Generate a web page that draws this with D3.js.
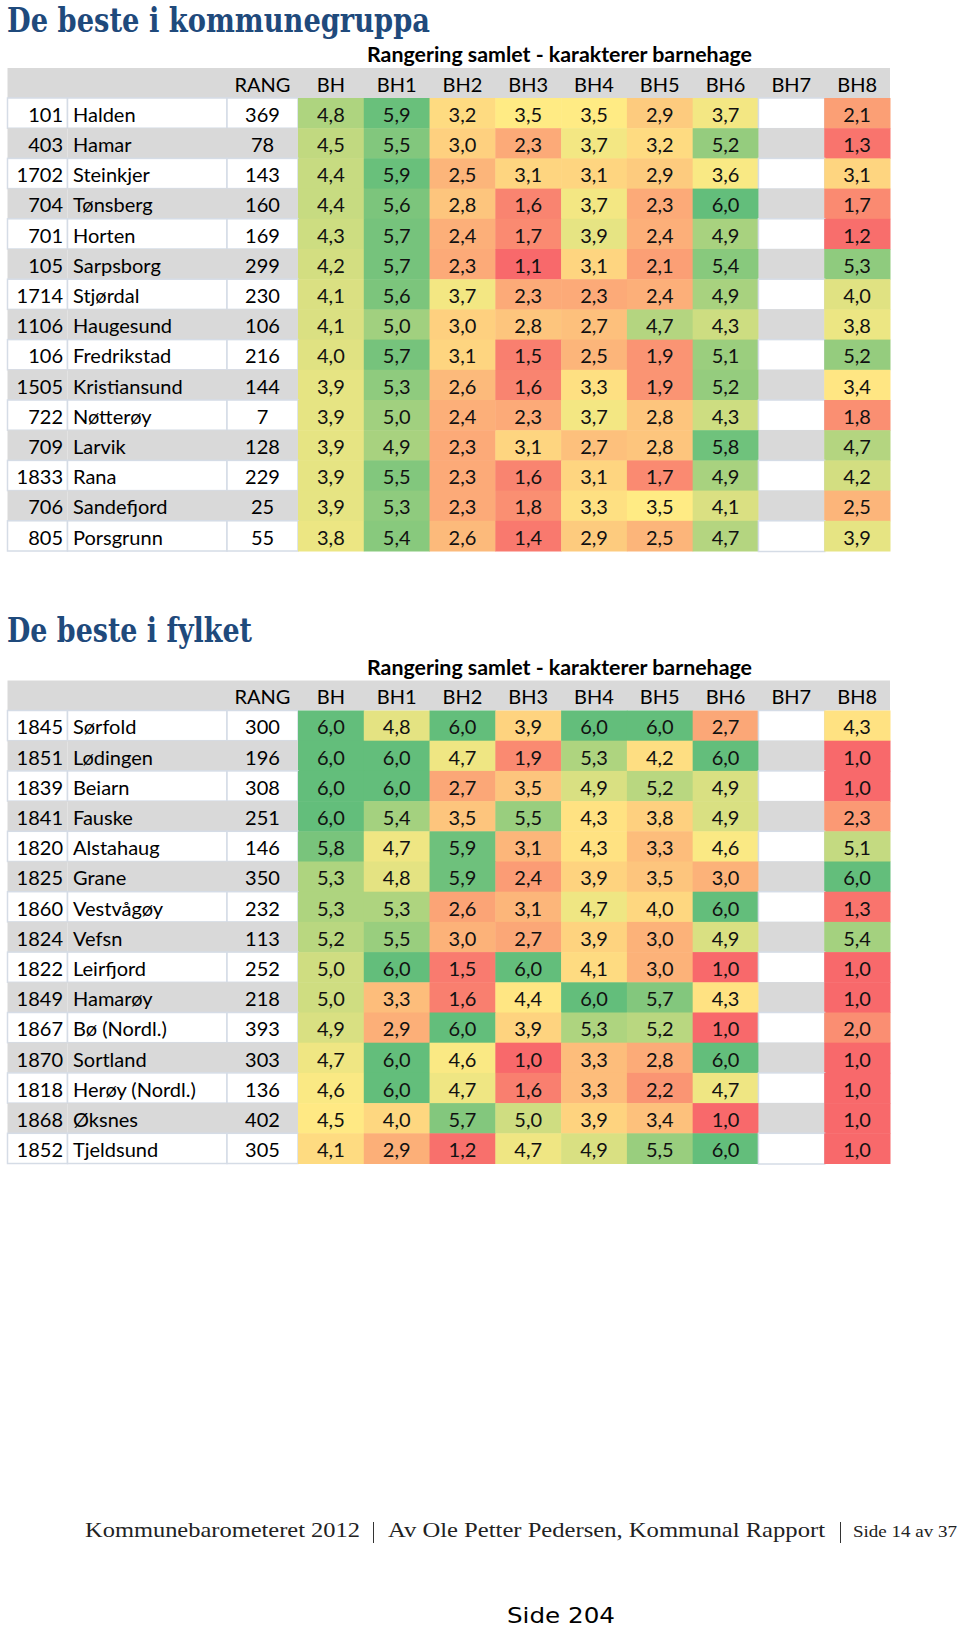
<!DOCTYPE html>
<html><head><meta charset="utf-8">
<script src="https://cdn.jsdelivr.net/npm/d3@7"></script>
<style>body{margin:0;background:#fff}svg{display:block}</style>
</head><body><svg id="c" width="960" height="1629"></svg>
<script>
// ---------- DATA ----------
const columns = ["BH","BH1","BH2","BH3","BH4","BH5","BH6","BH7","BH8"];
const subtitle = "Rangering samlet - karakterer barnehage";

const t1Title = "De beste i kommunegruppa";
const t1Codes = [101,403,1702,704,701,105,1714,1106,106,1505,722,709,1833,706,805];
const t1Names = ["Halden","Hamar","Steinkjer","Tønsberg","Horten","Sarpsborg","Stjørdal","Haugesund","Fredrikstad","Kristiansund","Nøtterøy","Larvik","Rana","Sandefjord","Porsgrunn"];
const t1Rang  = [369,78,143,160,169,299,230,106,216,144,7,128,229,25,55];
const t1Values = [
  [4.8,5.9,3.2,3.5,3.5,2.9,3.7,null,2.1],
  [4.5,5.5,3.0,2.3,3.7,3.2,5.2,null,1.3],
  [4.4,5.9,2.5,3.1,3.1,2.9,3.6,null,3.1],
  [4.4,5.6,2.8,1.6,3.7,2.3,6.0,null,1.7],
  [4.3,5.7,2.4,1.7,3.9,2.4,4.9,null,1.2],
  [4.2,5.7,2.3,1.1,3.1,2.1,5.4,null,5.3],
  [4.1,5.6,3.7,2.3,2.3,2.4,4.9,null,4.0],
  [4.1,5.0,3.0,2.8,2.7,4.7,4.3,null,3.8],
  [4.0,5.7,3.1,1.5,2.5,1.9,5.1,null,5.2],
  [3.9,5.3,2.6,1.6,3.3,1.9,5.2,null,3.4],
  [3.9,5.0,2.4,2.3,3.7,2.8,4.3,null,1.8],
  [3.9,4.9,2.3,3.1,2.7,2.8,5.8,null,4.7],
  [3.9,5.5,2.3,1.6,3.1,1.7,4.9,null,4.2],
  [3.9,5.3,2.3,1.8,3.3,3.5,4.1,null,2.5],
  [3.8,5.4,2.6,1.4,2.9,2.5,4.7,null,3.9]
];

const t2Title = "De beste i fylket";
const t2Codes = [1845,1851,1839,1841,1820,1825,1860,1824,1822,1849,1867,1870,1818,1868,1852];
const t2Names = ["Sørfold","Lødingen","Beiarn","Fauske","Alstahaug","Grane","Vestvågøy","Vefsn","Leirfjord","Hamarøy","Bø (Nordl.)","Sortland","Herøy (Nordl.)","Øksnes","Tjeldsund"];
const t2Rang  = [300,196,308,251,146,350,232,113,252,218,393,303,136,402,305];
const t2Values = [
  [6.0,4.8,6.0,3.9,6.0,6.0,2.7,null,4.3],
  [6.0,6.0,4.7,1.9,5.3,4.2,6.0,null,1.0],
  [6.0,6.0,2.7,3.5,4.9,5.2,4.9,null,1.0],
  [6.0,5.4,3.5,5.5,4.3,3.8,4.9,null,2.3],
  [5.8,4.7,5.9,3.1,4.3,3.3,4.6,null,5.1],
  [5.3,4.8,5.9,2.4,3.9,3.5,3.0,null,6.0],
  [5.3,5.3,2.6,3.1,4.7,4.0,6.0,null,1.3],
  [5.2,5.5,3.0,2.7,3.9,3.0,4.9,null,5.4],
  [5.0,6.0,1.5,6.0,4.1,3.0,1.0,null,1.0],
  [5.0,3.3,1.6,4.4,6.0,5.7,4.3,null,1.0],
  [4.9,2.9,6.0,3.9,5.3,5.2,1.0,null,2.0],
  [4.7,6.0,4.6,1.0,3.3,2.8,6.0,null,1.0],
  [4.6,6.0,4.7,1.6,3.3,2.2,4.7,null,1.0],
  [4.5,4.0,5.7,5.0,3.9,3.4,1.0,null,1.0],
  [4.1,2.9,1.2,4.7,4.9,5.5,6.0,null,1.0]
];

const footerLeft = "Kommunebarometeret 2012";
const footerMid = "Av Ole Petter Pedersen, Kommunal Rapport";
const footerRight = "Side 14 av 37";
const pageLabel = "Side 204";

// ---------- LAYOUT ----------
const svg = d3.select("#c");
const fmt = v => v.toFixed(1).replace(".", ",");
const FONT = "Lato, 'Open Sans', sans-serif";
const GRAY = "#D9D9D9", BORDER = "#D5DCE6";
const X0 = 7.5, XNAME = 67.5, XRANG = 227, XVAL = 298, XEND = 890;

const xVal = d3.scaleBand().domain(columns).range([XVAL, XEND]).paddingInner(0);

function drawTable(cfg) {
  const g = svg.append("g");
  const n = cfg.codes.length;
  const rowH = 30.2;
  const headTop = cfg.headTop, headH = 30;
  const y = d3.scaleBand().domain(d3.range(n)).range([headTop + headH, headTop + headH + n * rowH]);

  const all = cfg.values.flat().filter(v => v != null);
  const color = d3.scaleLinear()
    .domain([d3.min(all), d3.median(all), d3.max(all)])
    .range(["#F8696B", "#FFEB84", "#63BE7B"]);

  // title
  g.append("text").attr("x", cfg.titleX).attr("y", cfg.titleY)
    .attr("font-family", "'DejaVu Serif', serif").attr("font-weight", "bold")
    .attr("font-size", 33).attr("fill", "#1F4A7C")
    .attr("textLength", cfg.titleW).attr("lengthAdjust", "spacingAndGlyphs")
    .text(cfg.title);

  // subtitle
  g.append("text").attr("x", 367).attr("y", headTop - 6)
    .attr("font-family", FONT).attr("font-weight", "bold").attr("font-size", 20)
    .attr("fill", "#000").attr("textLength", 385).attr("lengthAdjust", "spacingAndGlyphs")
    .text(subtitle);

  // header
  g.append("rect").attr("x", X0).attr("y", headTop).attr("width", XEND - X0).attr("height", headH).attr("fill", GRAY);
  const hy = headTop + 23.5;
  g.append("text").attr("x", (XRANG + XVAL) / 2).attr("y", hy).attr("text-anchor", "middle")
    .attr("font-family", FONT).attr("font-size", 20).text("RANG");
  g.selectAll(".hcol").data(columns).enter().append("text")
    .attr("x", d => xVal(d) + xVal.bandwidth() / 2).attr("y", hy).attr("text-anchor", "middle")
    .attr("font-family", FONT).attr("font-size", 20).text(d => d);

  // rows
  const rows = g.selectAll(".row").data(d3.range(n)).enter().append("g");
  rows.each(function (i) {
    const r = d3.select(this);
    const top = y(i), h = y.bandwidth();
    const white = i % 2 === 0;
    const bg = white ? "#fff" : GRAY;
    const fixedCells = [[X0, XNAME], [XNAME, XRANG], [XRANG, XVAL]];
    fixedCells.forEach(([a, b]) => {
      r.append("rect").attr("x", a).attr("y", top).attr("width", b - a).attr("height", h)
        .attr("fill", bg).attr("stroke", white ? BORDER : "none").attr("stroke-width", 1.5);
    });
    columns.forEach((c, j) => {
      const v = cfg.values[i][j];
      r.append("rect").attr("x", xVal(c)).attr("y", top).attr("width", xVal.bandwidth() + 0.5).attr("height", h + 0.5)
        .attr("fill", v == null ? bg : color(v))
        .attr("stroke", v == null && white ? BORDER : "none").attr("stroke-width", 1.5);
    });
    const ty = top + 23.8;
    r.append("text").attr("x", 63).attr("y", ty).attr("text-anchor", "end")
      .attr("font-family", FONT).attr("font-size", 20).text(cfg.codes[i]);
    r.append("text").attr("x", 73).attr("y", ty)
      .attr("font-family", FONT).attr("font-size", 20).text(cfg.names[i]);
    r.append("text").attr("x", (XRANG + XVAL) / 2).attr("y", ty).attr("text-anchor", "middle")
      .attr("font-family", FONT).attr("font-size", 20).text(cfg.rang[i]);
    columns.forEach((c, j) => {
      const v = cfg.values[i][j];
      if (v == null) return;
      r.append("text").attr("x", xVal(c) + xVal.bandwidth() / 2).attr("y", ty).attr("text-anchor", "middle")
        .attr("font-family", FONT).attr("font-size", 20).attr("fill", "#111").text(fmt(v));
    });
  });
}

drawTable({title: t1Title, titleX: 7, titleY: 31.5, titleW: 423, headTop: 68,
  codes: t1Codes, names: t1Names, rang: t1Rang, values: t1Values});
drawTable({title: t2Title, titleX: 7, titleY: 642, titleW: 245, headTop: 680.5,
  codes: t2Codes, names: t2Names, rang: t2Rang, values: t2Values});

// footer
const fy = 1537;
const ff = "'Liberation Serif', 'DejaVu Serif', serif";
svg.append("text").attr("x", 85).attr("y", fy).attr("font-family", ff).attr("font-size", 21).attr("fill", "#222")
  .attr("textLength", 275).attr("lengthAdjust", "spacingAndGlyphs").text(footerLeft);
svg.append("text").attr("x", 388).attr("y", fy).attr("font-family", ff).attr("font-size", 21).attr("fill", "#222")
  .attr("textLength", 437).attr("lengthAdjust", "spacingAndGlyphs").text(footerMid);
svg.append("text").attr("x", 853).attr("y", fy).attr("font-family", ff).attr("font-size", 17).attr("fill", "#222")
  .attr("textLength", 104).attr("lengthAdjust", "spacingAndGlyphs").text(footerRight);
[373.5, 840.5].forEach(x => svg.append("line").attr("x1", x).attr("x2", x).attr("y1", 1522).attr("y2", 1543)
  .attr("stroke", "#333").attr("stroke-width", 1));
svg.append("text").attr("x", 507).attr("y", 1623).attr("font-family", "'DejaVu Sans', sans-serif").attr("font-size", 21)
  .attr("fill", "#000").attr("textLength", 108).attr("lengthAdjust", "spacingAndGlyphs").text(pageLabel);
</script></body></html>
